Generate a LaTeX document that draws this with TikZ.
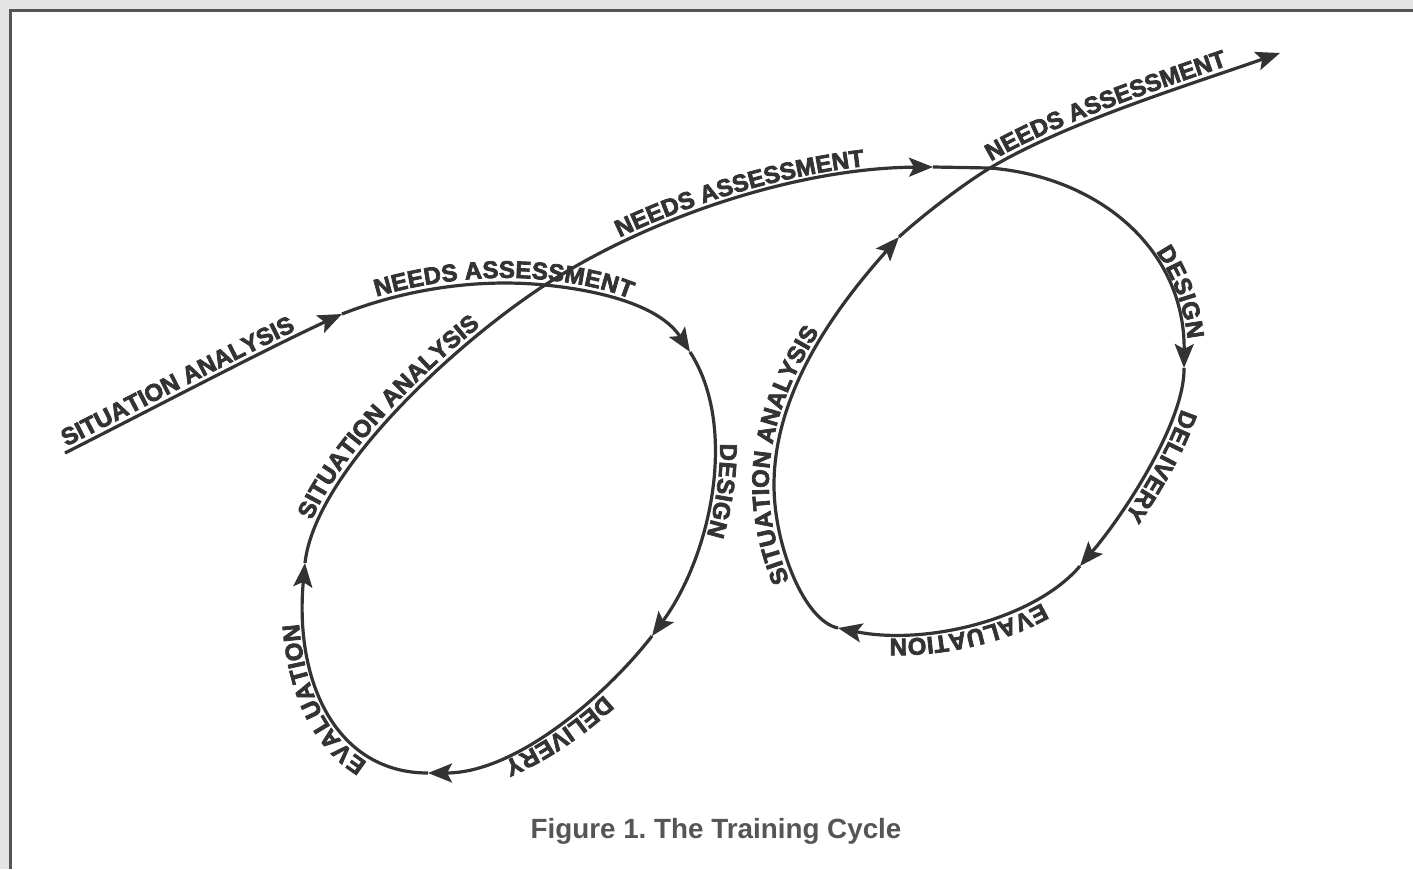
\documentclass[tikz,border=0pt]{standalone}
\usepackage{fontspec}
\setmainfont{Liberation Sans}
\newfontfamily\heavy{Liberation Sans}[BoldFeatures={FakeBold=3}]
\usetikzlibrary{decorations.text,arrows.meta}
\definecolor{ink}{HTML}{333333}
\definecolor{capt}{HTML}{555555}
\definecolor{frameg}{HTML}{E4E4E4}
\definecolor{framed}{HTML}{555555}
\begin{document}
\begin{tikzpicture}[x=0.5pt,y=-0.5pt,
  curve/.style={draw=ink, line width=1.6pt},
  tip/.style={-{Stealth[length=12pt,width=9.5pt,inset=2.5pt]}},
  lbl/.style={decorate, decoration={text along path, text color=ink, raise=2.6pt,
     text={|\heavy\fontsize{12}{14}\selectfont\bfseries|#1}}}
]
\useasboundingbox (0,0) rectangle (1413,869);
\fill[frameg] (0,0) rectangle (1413,869);
\fill[white] (11,11) rectangle (1413,869);
\draw[framed, line width=1.5pt] (10,869) -- (10,10) -- (1413,10);

\coordinate (P0) at (65,453);
\coordinate (A1) at (342,314);
\coordinate (C1) at (545,285);
\coordinate (A2) at (690,352);
\coordinate (A3) at (652,636);
\coordinate (A4) at (428,773);
\coordinate (A5) at (305,563);
\coordinate (A6) at (933,167);
\coordinate (C2) at (990,168);
\coordinate (A7) at (1184,368);
\coordinate (A8) at (1080,566);
\coordinate (A9) at (838,628);
\coordinate (L2) at (774,485);
\coordinate (A10) at (899,237);
\coordinate (EN) at (1280,53);

% curve segments
\draw[curve,tip] (P0) .. controls (150,410) and (260,352) .. (A1);
\draw[curve] (A1) .. controls (403,290) and (475,278) .. (C1);
\draw[curve,tip] (C1) .. controls (605,291) and (661,307) .. (A2);
\draw[curve,tip] (A2) .. controls (738,426) and (712,554) .. (A3);
\draw[curve,tip] (A3) .. controls (607,694) and (517,773) .. (A4);
\draw[curve,tip] (A4) .. controls (337,773) and (294,683) .. (A5);
\draw[curve] (A5) .. controls (315,473) and (453,345) .. (C1);
\draw[curve,tip] (C1) .. controls (646,219) and (795,168) .. (A6);
\draw[curve] (A6) -- (C2);
\draw[curve,tip] (C2) .. controls (1100,177) and (1185,250) .. (A7);
\draw[curve,tip] (A7) .. controls (1185,420) and (1126,512) .. (A8);
\draw[curve,tip] (A8) .. controls (1035,619) and (926,646) .. (A9);
\draw[curve,tip] (A9) .. controls (804,621) and (774,545) .. (L2) .. controls (774,395) and (831,313) .. (A10);
\draw[curve] (A10) .. controls (916,221) and (960,186) .. (C2);
\draw[curve,tip] (C2) .. controls (1067,122) and (1192,84) .. (EN);

% labels
\path[lbl={SITUATION ANALYSIS}, decoration={text align={left, left indent=2pt}}]
  (P0) .. controls (150,410) and (260,352) .. (A1);
\path[lbl={NEEDS ASSESSMENT}, decoration={text align={left, left indent=19pt}}]
  (A1) .. controls (403,290) and (475,278) .. (C1) .. controls (605,291) and (661,307) .. (A2);
\path[lbl={DESIGN}, decoration={text align={left, left indent=48pt}}]
  (A2) .. controls (738,426) and (712,554) .. (A3);
\path[lbl={DELIVERY}, decoration={text align=center}]
  (A3) .. controls (607,694) and (517,773) .. (A4);
\path[lbl={EVALUATION}, decoration={text align=center}]
  (A4) .. controls (337,773) and (294,683) .. (A5);
\path[lbl={SITUATION ANALYSIS}, decoration={text align={left, left indent=21pt}}]
  (A5) .. controls (315,473) and (453,345) .. (C1);
\path[lbl={NEEDS ASSESSMENT}, decoration={text align={left, left indent=44pt}}]
  (C1) .. controls (646,219) and (795,168) .. (A6);
\path[lbl={DESIGN}, decoration={text align={right, right indent=14pt}}]
  (C2) .. controls (1100,177) and (1185,250) .. (A7);
\path[lbl={DELIVERY}, decoration={text align={left, left indent=20pt}}]
  (A7) .. controls (1185,420) and (1126,512) .. (A8);
\path[lbl={EVALUATION}, decoration={text align=center}]
  (A8) .. controls (1035,619) and (926,646) .. (A9);
\path[lbl={SITUATION ANALYSIS}, decoration={text align={left, left indent=34pt}}]
  (A9) .. controls (804,621) and (774,545) .. (L2) .. controls (774,395) and (831,313) .. (A10);
\path[lbl={NEEDS ASSESSMENT}, decoration={text align={left, left indent=2pt}}]
  (C2) .. controls (1067,122) and (1192,84) .. (EN);

\node[font=\fontsize{13.9}{16}\selectfont\bfseries, text=capt, anchor=base] (cap) at (716,838) {Figure 1.\ The Training Cycle};
\end{tikzpicture}
\end{document}
